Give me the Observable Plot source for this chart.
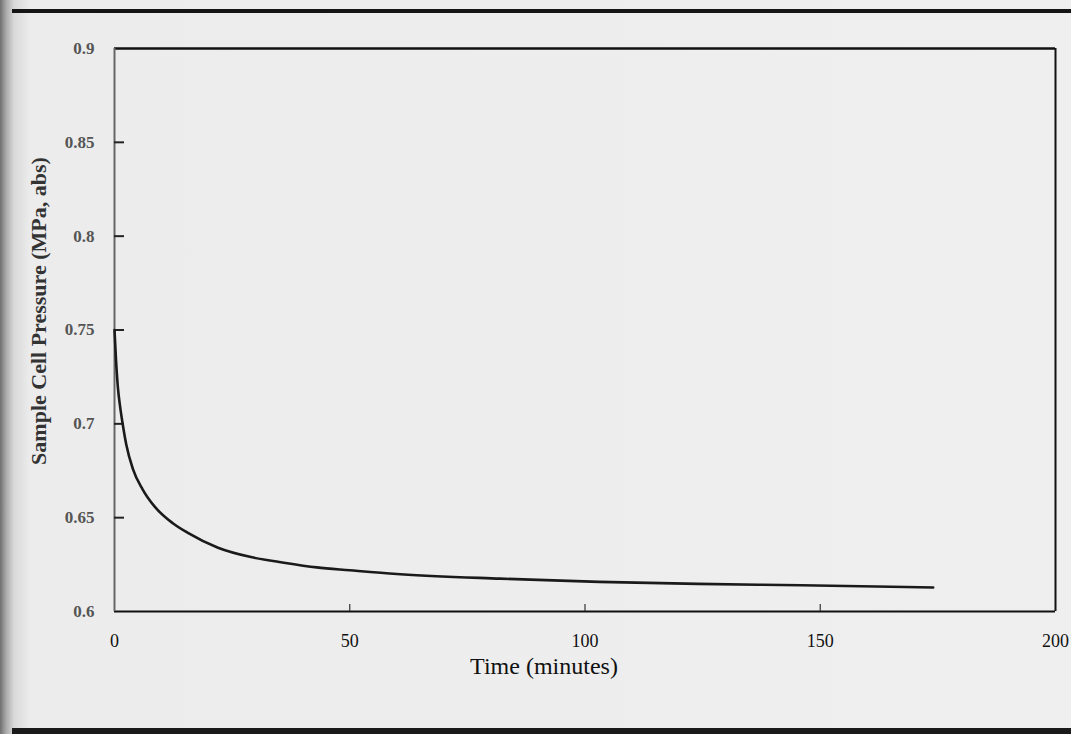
<!DOCTYPE html>
<html>
<head>
<meta charset="utf-8">
<script src="https://cdn.jsdelivr.net/npm/d3@7"></script>
<script src="https://cdn.jsdelivr.net/npm/@observablehq/plot@0.6"></script>
<style>
  html, body { margin: 0; padding: 0; }
  body { width: 1071px; height: 734px; overflow: hidden; position: relative;
         background: linear-gradient(to right, #6f6f6f 0px, #a9a9a9 6px, #d9d9d9 14px, #ececec 30px, #efefef 100%); }
  #topline { position: absolute; left: 12px; top: 9px; width: 1059px; height: 4px; background: #151515; }
  #bottomline { position: absolute; left: 12px; top: 728px; width: 1059px; height: 6px; background: #1a1a1a; }
  #chart { position: absolute; left: 0; top: 0; }
</style>
</head>
<body>
<div id="topline"></div>
<div id="bottomline"></div>
<div id="chart"></div>
<script>
// Data
const timeMin = [0, 0.3, 0.7, 1.2, 1.8, 2.5, 3.9, 6.0, 8.5, 12.4, 15.5, 22, 29, 36, 43, 50, 60, 82, 103, 124, 146, 174];
const pressure = [0.750, 0.735, 0.720, 0.709, 0.699, 0.689, 0.676, 0.665, 0.656, 0.647, 0.642, 0.634, 0.629, 0.626, 0.6235, 0.622, 0.620, 0.6175, 0.6158, 0.6147, 0.614, 0.6128];

const xDomain = [0, 200];
const yDomain = [0.6, 0.9];
const xTicks = [0, 50, 100, 150, 200];
const yTicks = [0.6, 0.65, 0.7, 0.75, 0.8, 0.85, 0.9];
const xInnerTicks = [50, 100, 150];
const yInnerTicks = [0.65, 0.7, 0.75, 0.8, 0.85];
const xLabel = "Time (minutes)";
const yLabel = "Sample Cell Pressure (MPa, abs)";

const series = timeMin.map((t, i) => ({t, p: pressure[i]}));

const chart = Plot.plot({
  width: 1071,
  height: 734,
  marginLeft: 114,
  marginRight: 16,
  marginTop: 48,
  marginBottom: 123,
  style: {background: "transparent", fontFamily: "'Liberation Serif', serif", color: "#111", fontSize: "18px"},
  x: {domain: xDomain},
  y: {domain: yDomain},
  marks: [
    // frame
    Plot.ruleY([yDomain[1]], {stroke: "#111", strokeWidth: 2.5}),
    Plot.ruleY([yDomain[0]], {stroke: "#111", strokeWidth: 2}),
    Plot.ruleX([xDomain[1]], {stroke: "#111", strokeWidth: 2}),
    Plot.ruleX([xDomain[0]], {stroke: "#666", strokeWidth: 2}),
    // inward ticks
    Plot.axisY({ticks: yInnerTicks, tickSize: -10, tickFormat: () => "", stroke: "#222", strokeWidth: 2, label: null}),
    Plot.axisX({ticks: xInnerTicks, tickSize: -7, tickFormat: () => "", stroke: "#333", strokeWidth: 1.2, label: null}),
    // tick labels
    Plot.text(yTicks, {y: d => d, text: d => String(d), frameAnchor: "left", textAnchor: "end", lineAnchor: "middle", dx: -20, fontSize: 17, fontWeight: "bold", fill: "#555"}),
    Plot.text(xTicks, {x: d => d, text: d => String(d), frameAnchor: "bottom", textAnchor: "middle", lineAnchor: "middle", dy: 30, fontSize: 18, fill: "#111"}),
    // axis titles
    Plot.text([yLabel], {frameAnchor: "left", textAnchor: "middle", lineAnchor: "middle", text: d => d, rotate: -90, dx: -76, dy: -19, fontSize: 22, fontWeight: "bold", fill: "#333"}),
    Plot.text([xLabel], {frameAnchor: "bottom", textAnchor: "middle", lineAnchor: "middle", text: d => d, dx: -41, dy: 55, fontSize: 24, fill: "#111"}),
    // curve
    Plot.line(series, {x: "t", y: "p", curve: "monotone-x", stroke: "#1a1a1a", strokeWidth: 2.6})
  ]
});
document.getElementById("chart").appendChild(chart);
</script>
</body>
</html>
